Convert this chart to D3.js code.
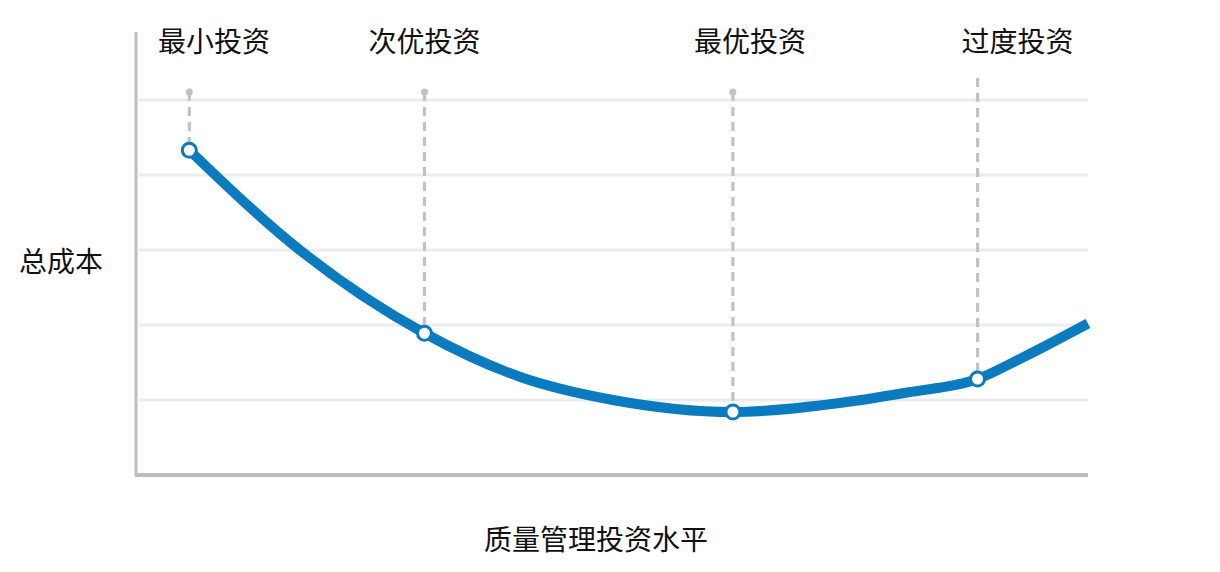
<!DOCTYPE html>
<html>
<head>
<meta charset="utf-8">
<script src="https://cdn.jsdelivr.net/npm/d3@7"></script>
<style>
  body { margin: 0; background: #fff; }
  text { font-family: "Noto Sans CJK SC", sans-serif; fill: #111; }
</style>
</head>
<body>
<svg id="chart"></svg>
<script>
// investment level (0-100) vs total cost (gridline units)
const curveX = [5.6, 17.2, 30.3, 40.3, 50.1, 62.7, 73.9, 81.0, 88.4, 93.2, 100];
const curveY = [4.33, 3.0, 1.89, 1.31, 1.0, 0.84, 0.96, 1.10, 1.28, 1.57, 2.02];

const markerX = [5.6, 30.3, 62.7, 88.4];
const markerY = [4.33, 1.89, 0.84, 1.28];
const markerLabels = ["最小投资", "次优投资", "最优投资", "过度投资"];
const labelOffset = [2.6, 0, 1.8, 4.2];
const gridValues = [1, 2, 3, 4, 5];

const W = 1220, H = 572;
const margin = { left: 136, right: 132, top: 25, bottom: 97 };

const svg = d3.select('#chart').attr('width', W).attr('height', H);

const x = d3.scaleLinear().domain([0, 100]).range([margin.left, W - margin.right]);
const y = d3.scaleLinear().domain([0, 6]).range([H - margin.bottom, margin.top]);

// grid
svg.append('g')
  .selectAll('line')
  .data(gridValues)
  .join('line')
  .attr('x1', x(0) + 3)
  .attr('x2', x(100))
  .attr('y1', d => y(d))
  .attr('y2', d => y(d))
  .attr('stroke', '#ececec')
  .attr('stroke-width', 3);

// axes
svg.append('line')
  .attr('x1', x(0)).attr('x2', x(0))
  .attr('y1', 32).attr('y2', y(0) + 1)
  .attr('stroke', '#bdbdbd').attr('stroke-width', 3);
svg.append('line')
  .attr('x1', x(0) - 1).attr('x2', x(100))
  .attr('y1', y(0)).attr('y2', y(0))
  .attr('stroke', '#bdbdbd').attr('stroke-width', 4);

// dashed guides
const markers = markerX.map((d, i) => ({ x: d, y: markerY[i], label: markerLabels[i], off: labelOffset[i] }));

svg.append('g')
  .selectAll('line')
  .data(markers)
  .join('line')
  .attr('x1', d => x(d.x)).attr('x2', d => x(d.x))
  .attr('y1', (d, i) => i === 3 ? 78 : 92)
  .attr('y2', d => y(d.y))
  .attr('stroke', '#c2c2c2')
  .attr('stroke-width', 3.2)
  .attr('stroke-dasharray', '9,6');

svg.append('g')
  .selectAll('circle')
  .data(markers.slice(0, 3))
  .join('circle')
  .attr('cx', d => x(d.x))
  .attr('cy', 92)
  .attr('r', 3.5)
  .attr('fill', '#c2c2c2');

// curve
const line = d3.line()
  .x((d, i) => x(curveX[i]))
  .y(d => y(d))
  .curve(d3.curveMonotoneX);

svg.append('path')
  .datum(curveY)
  .attr('fill', 'none')
  .attr('stroke', '#0a7bbf')
  .attr('stroke-width', 10)
  .attr('d', line);

svg.append('g')
  .selectAll('circle')
  .data(markers)
  .join('circle')
  .attr('cx', d => x(d.x))
  .attr('cy', d => y(d.y))
  .attr('r', 7)
  .attr('fill', '#fff')
  .attr('stroke', '#0a7bbf')
  .attr('stroke-width', 3);

// labels
svg.append('g')
  .selectAll('text')
  .data(markers)
  .join('text')
  .attr('x', d => x(d.x + d.off))
  .attr('y', 52)
  .attr('text-anchor', 'middle')
  .attr('font-size', 28)
  .text(d => d.label);

svg.append('text')
  .attr('x', 61).attr('y', 272)
  .attr('text-anchor', 'middle')
  .attr('font-size', 28)
  .text('总成本');

svg.append('text')
  .attr('x', 596).attr('y', 550)
  .attr('text-anchor', 'middle')
  .attr('font-size', 28)
  .text('质量管理投资水平');
</script>
</body>
</html>
